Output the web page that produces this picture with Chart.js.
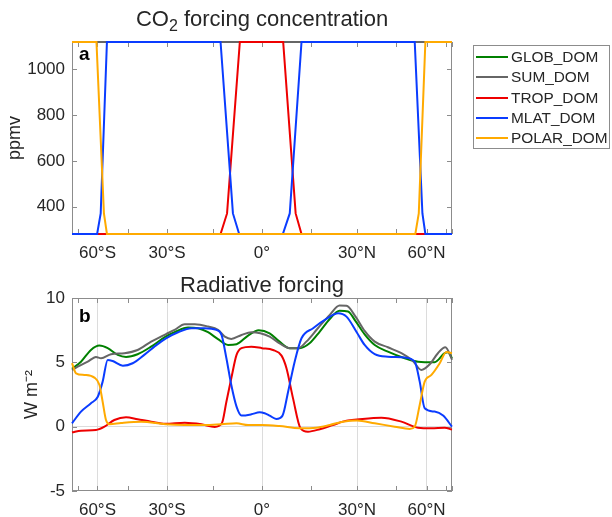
<!DOCTYPE html>
<html>
<head>
<meta charset="utf-8">
<script src="https://cdn.jsdelivr.net/npm/chart.js@4/dist/chart.umd.min.js"></script>
<style>
  body { margin: 0; background: #fff; font-family: "Liberation Sans", Arial, sans-serif; color: #262626; }
  #wrap { position: relative; width: 612px; height: 517px; overflow: hidden; }
  canvas { position: absolute; left: 0; }
  #topChart { top: 0; }
  #botChart { top: 262px; }
  .title { position: absolute; left: 72px; width: 380px; text-align: center; font-size: 22px; line-height: 22px; white-space: nowrap; }
  .title sub { font-size: 16px; line-height: 0; vertical-align: -5px; }
  #legend { position: absolute; left: 473px; top: 45px; width: 137px; height: 104px; border: 1px solid #8c8c8c; box-sizing: border-box; }
  .item { position: absolute; left: 2px; height: 20px; font-size: 15.4px; line-height: 20px; white-space: nowrap; }
  .item i { display: inline-block; width: 32px; height: 2px; vertical-align: middle; margin-right: 3px; position: relative; top: -1px; }
</style>
</head>
<body>
<div id="wrap">
  <canvas id="topChart" width="612" height="262"></canvas>
  <canvas id="botChart" width="612" height="255"></canvas>
  <div class="title" style="top:8px">CO<sub>2</sub> forcing concentration</div>
  <div class="title" style="top:274px">Radiative forcing</div>
  <div id="legend"></div>
</div>
<script>
const seriesNames = ["GLOB_DOM", "SUM_DOM", "TROP_DOM", "MLAT_DOM", "POLAR_DOM"];
const seriesColors = ["#008000", "#666666", "#ee0000", "#0a3cff", "#ffaa00"];

// (a) CO2 concentration (ppmv) against latitude
const globCO2Lat = [-90, 90];
const globCO2 = [1120, 1120];
const sumCO2Lat = [-90, 90];
const sumCO2 = [1120, 1120];
const tropCO2Lat = [-90, -12.6, -10.6, -6.7, 6.4, 10.2, 12, 90];
const tropCO2 = [280, 280, 370, 1120, 1120, 370, 280, 280];
const mlatCO2Lat = [-90, -60.2, -58.1, -54.7, -12.6, -8.8, -6.9, 6.3, 8.4, 12, 53.5, 57.6, 59.3, 90];
const mlatCO2 = [280, 280, 370, 1120, 1120, 370, 280, 280, 370, 1120, 1120, 370, 280, 280];
const polarCO2Lat = [-90, -60.6, -56.3, -54.7, 53.8, 55.6, 59.3, 90];
const polarCO2 = [1120, 1120, 370, 280, 280, 370, 1120, 1120];

// (b) radiative forcing (W m-2) against latitude
const globRFLat = [-90, -72.3, -64.2, -58.9, -54.3, -49.4, -45.7, -40.9, -35.7, -30.5, -27.4, -22.9, -19.7, -16.5, -13.4, -10.3, -7.7, -4.2, -1, 2.3, 5.3, 8.4, 11.4, 14.5, 17.7, 20.9, 24.1, 26.9, 29.5, 32.7, 36.4, 41.5, 48.7, 55.2, 65.3, 74, 78.2, 90];
const globRF = [4.5, 5.05, 5.96, 6.3, 6.1, 5.58, 5.42, 5.63, 6.22, 7.0, 7.34, 7.7, 7.65, 7.34, 6.8, 6.35, 6.41, 7.08, 7.5, 7.26, 6.61, 6.1, 6.1, 6.48, 7.39, 8.37, 9.0, 8.95, 8.2, 7.18, 6.35, 5.83, 5.32, 5.05, 5.01, 5.71, 5.79, 5.32];
const sumRFLat = [-90, -75.9, -66.5, -60.9, -57.9, -52.6, -46.4, -40.9, -35.7, -30.5, -27.4, -24, -20.7, -16.5, -13.4, -11.3, -9.3, -6.2, -3.2, -0.5, 2.3, 5.3, 8.4, 10.9, 13.5, 17.1, 20.9, 24.1, 26.4, 29.5, 32.7, 36.4, 41.5, 47.2, 52.6, 57, 62, 67.8, 74.8, 85.5, 90];
const sumRF = [4.41, 4.67, 5.05, 5.42, 5.32, 5.63, 5.71, 5.96, 6.61, 7.18, 7.52, 7.96, 7.96, 7.78, 7.52, 7.0, 6.82, 7.13, 7.34, 7.26, 7.0, 6.48, 6.1, 6.1, 6.61, 7.65, 8.69, 9.41, 9.39, 8.55, 7.44, 6.61, 6.17, 5.71, 5.11, 4.41, 4.85, 5.71, 6.17, 5.32, 5.2];
const tropRFLat = [-90, -72.3, -60.9, -56, -51, -45.7, -40.9, -35.7, -30.5, -24, -18.6, -14.4, -12.2, -10.8, -9.3, -7.7, -6.2, -3.2, 0, 3.3, 5.9, 7.4, 9.4, 11.7, 14, 17.7, 21.9, 26.4, 30, 38.9, 47.2, 55.2, 63.1, 74, 90];
const tropRF = [-0.44, -0.31, -0.26, 0.0, 0.52, 0.73, 0.58, 0.39, 0.22, 0.31, 0.19, -0.02, 0.26, 1.94, 3.76, 5.58, 6.1, 6.22, 6.1, 5.96, 5.52, 4.54, 2.2, -0.12, -0.39, -0.2, 0.13, 0.47, 0.56, 0.7, 0.39, -0.08, -0.12, -0.08, -0.23];
const mlatRFLat = [-90, -72.3, -64.2, -59.8, -57, -54.3, -51.8, -47.1, -42.9, -38.3, -34.5, -30.5, -26.2, -21.8, -17.6, -13.9, -12.3, -10.8, -9.3, -7.7, -6.2, -3.2, -0.7, 0.8, 2.3, 4.3, 6.2, 7.9, 9.9, 12, 15.6, 19.8, 23.6, 26.4, 30, 32.7, 36.4, 41.5, 48.7, 53.5, 56.1, 58.9, 65.3, 72.4, 90];
const mlatRF = [0.26, 1.17, 1.82, 2.33, 3.5, 5.19, 5.1, 4.74, 4.93, 5.58, 6.22, 6.85, 7.34, 7.65, 7.65, 7.52, 7.13, 5.32, 3.24, 1.56, 0.86, 0.96, 1.12, 1.04, 0.86, 0.6, 0.86, 2.72, 5.05, 6.87, 7.65, 8.37, 8.82, 8.55, 7.3, 6.35, 5.63, 5.44, 5.37, 5.05, 3.5, 1.43, 1.17, 0.86, 0.0];
const polarRFLat = [-90, -78.2, -69.2, -61.9, -58.8, -57, -55.2, -53.4, -47.9, -39.5, -30.5, -24, -17.6, -12.3, -7.7, -4.2, 0, 5.3, 11.4, 16.6, 20.9, 25.2, 30, 36.4, 44.3, 51, 53.5, 56.1, 58.9, 63.1, 69.3, 76, 90];
const polarRF = [4.93, 4.15, 4.02, 3.81, 3.24, 1.94, 0.52, 0.19, 0.29, 0.39, 0.19, 0.13, 0.13, 0.19, 0.26, 0.13, 0.13, 0.05, -0.12, -0.08, 0.13, 0.39, 0.48, 0.26, 0.0, -0.18, 0.0, 1.69, 3.5, 4.02, 4.93, 5.81, 5.71];

const co2Ticks = [400, 600, 800, 1000];

// latitude axis spaced by sin(lat)
class SineLatScale extends Chart.LinearScale {
  getPixelForValue(value) {
    return this.getPixelForDecimal((Math.sin(value * Math.PI / 180) + 1) / 2);
  }
  getValueForPixel(pixel) {
    return Math.asin(this.getDecimalForPixel(pixel) * 2 - 1) * 180 / Math.PI;
  }
}
SineLatScale.id = "sinlat";
SineLatScale.defaults = Chart.LinearScale.defaults;
Chart.register(SineLatScale);

function latLabel(v) {
  if (v % 30 !== 0 || Math.abs(v) >= 90) return "";
  if (v === 0) return "0°";
  return Math.abs(v) + "°" + (v < 0 ? "S" : "N");
}

// box, inward tick marks and panel letter
const frame = {
  id: "frame",
  beforeDatasetsDraw(chart) {
    const { ctx, chartArea: a, scales } = chart;
    ctx.save();
    ctx.strokeStyle = "#8c8c8c";
    ctx.lineWidth = 1;
    ctx.beginPath();
    scales.x.ticks.forEach((t) => {
      const px = Math.round(scales.x.getPixelForValue(t.value)) + 0.5;
      ctx.moveTo(px, a.bottom); ctx.lineTo(px, a.bottom - 5);
      ctx.moveTo(px, a.top); ctx.lineTo(px, a.top + 5);
    });
    scales.y.ticks.forEach((t) => {
      const py = Math.round(scales.y.getPixelForValue(t.value)) + 0.5;
      ctx.moveTo(a.left, py); ctx.lineTo(a.left + 5, py);
      ctx.moveTo(a.right, py); ctx.lineTo(a.right - 5, py);
    });
    ctx.stroke();
    ctx.strokeRect(Math.round(a.left) + 0.5, Math.round(a.top) + 0.5, Math.round(a.width) - 1, Math.round(a.height) - 1);
    ctx.restore();
  },
  afterDraw(chart, args, opts) {
    const { ctx, chartArea: a } = chart;
    ctx.save();
    ctx.font = "bold 19px 'Liberation Sans', Arial, sans-serif";
    ctx.fillStyle = "#000";
    ctx.textBaseline = "alphabetic";
    ctx.fillText(opts.letter, a.left + 7, a.top + opts.baseline);
    ctx.restore();
  },
};

function makeData(lats, vals, smooth) {
  return {
    datasets: seriesNames.map((name, i) => ({
      label: name,
      data: lats[i].map((lat, j) => ({ x: lat, y: vals[i][j] })),
      borderColor: seriesColors[i],
      borderWidth: 2,
      pointRadius: 0,
      fill: false,
      clip: 3,
      order: seriesNames.length - i,
      cubicInterpolationMode: smooth ? "monotone" : "default",
      tension: 0,
    })),
  };
}

const tickFont = { family: "'Liberation Sans', Arial, sans-serif", size: 17 };
const labelFont = { family: "'Liberation Sans', Arial, sans-serif", size: 18 };

function xAxis(height, withGrid) {
  return {
    type: "sinlat",
    min: -90,
    max: 90,
    afterFit: (s) => { s.height = height; },
    ticks: {
      stepSize: 15,
      autoSkip: false,
      maxRotation: 0,
      padding: 9,
      color: "#262626",
      font: tickFont,
      callback: (v) => latLabel(v),
    },
    grid: {
      drawTicks: false,
      color: (c) => (withGrid && c.tick && c.tick.label ? "#dcdcdc" : "rgba(0,0,0,0)"),
    },
    border: { display: false },
  };
}

function yAxis(opts) {
  return Object.assign({
    afterFit: (s) => { s.width = 72; },
    border: { display: false },
  }, opts);
}

const common = {
  responsive: false,
  animation: false,
  devicePixelRatio: 1,
  events: [],
};

new Chart(document.getElementById("topChart"), {
  type: "line",
  data: makeData(
    [globCO2Lat, sumCO2Lat, tropCO2Lat, mlatCO2Lat, polarCO2Lat],
    [globCO2, sumCO2, tropCO2, mlatCO2, polarCO2],
    false
  ),
  plugins: [frame],
  options: Object.assign({}, common, {
    layout: { padding: { top: 42, right: 160, left: 0, bottom: 0 } },
    plugins: { legend: { display: false }, tooltip: { enabled: false }, frame: { letter: "a", baseline: 18 } },
    scales: {
      x: xAxis(28, false),
      y: yAxis({
        min: 280,
        max: 1120,
        afterBuildTicks: (s) => { s.ticks = co2Ticks.map((v) => ({ value: v })); },
        ticks: { padding: 7, color: "#262626", font: tickFont, callback: (v) => String(v) },
        grid: { drawTicks: false, display: false },
        title: { display: true, text: "ppmv", color: "#262626", font: labelFont, padding: { top: 4, bottom: 0 } },
      }),
    },
  }),
});

new Chart(document.getElementById("botChart"), {
  type: "line",
  data: makeData(
    [globRFLat, sumRFLat, tropRFLat, mlatRFLat, polarRFLat],
    [globRF, sumRF, tropRF, mlatRF, polarRF],
    true
  ),
  plugins: [frame],
  options: Object.assign({}, common, {
    layout: { padding: { top: 36, right: 160, left: 0, bottom: 0 } },
    plugins: { legend: { display: false }, tooltip: { enabled: false }, frame: { letter: "b", baseline: 24 } },
    scales: {
      x: xAxis(26, true),
      y: yAxis({
        min: -5,
        max: 10,
        ticks: { stepSize: 5, padding: 7, color: "#262626", font: tickFont, callback: (v) => String(v) },
        grid: { drawTicks: false, color: (c) => (c.tick && c.tick.value === 0 ? "#dcdcdc" : "rgba(0,0,0,0)") },
        title: { display: true, text: "W m⁻²", color: "#262626", font: labelFont, padding: { top: 21, bottom: 0 } },
      }),
    },
  }),
});

// legend
const legend = document.getElementById("legend");
seriesNames.forEach((name, i) => {
  const row = document.createElement("div");
  row.className = "item";
  row.style.top = (1 + i * 20.3) + "px";
  row.innerHTML = `<i style="background:${seriesColors[i]}"></i>${name}`;
  legend.appendChild(row);
});
</script>
</body>
</html>
